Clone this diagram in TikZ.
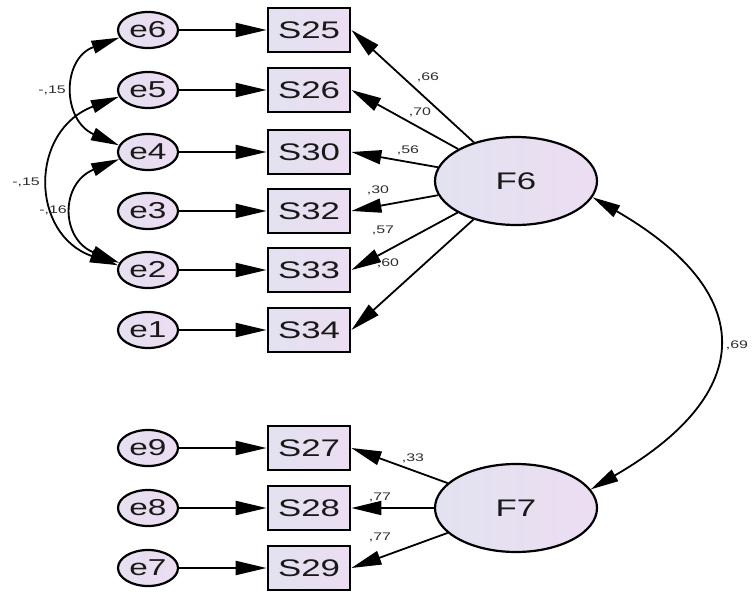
\documentclass[tikz,border=0pt]{standalone}
\usepackage{fontspec}
\setmainfont{Liberation Sans}
\newfontfamily\nodefont[FakeStretch=1.45]{Liberation Sans}
\newfontfamily\labfont[FakeStretch=1.45]{Liberation Sans}
\usetikzlibrary{shapes.geometric,arrows.meta}
\definecolor{lavL}{RGB}{226,226,240}
\definecolor{lavR}{RGB}{236,221,242}
\definecolor{errL}{RGB}{230,224,240}
\definecolor{errR}{RGB}{236,220,242}
\definecolor{txt}{RGB}{25,25,25}
\definecolor{labc}{RGB}{45,45,45}
\begin{document}
\begin{tikzpicture}[x=1pt,y=-1pt,
  errnode/.style={ellipse, draw=black, line width=2.2pt, minimum width=60pt, minimum height=36pt, inner sep=0pt,
    left color=errL, right color=errR, text=txt, font=\nodefont\fontsize{23}{23}\selectfont},
  obsnode/.style={rectangle, draw=black, line width=2.8pt, minimum width=82pt, minimum height=44pt, inner sep=0pt,
    left color=lavL, right color=lavR, text=txt, font=\nodefont\fontsize{24}{24}\selectfont},
  latnode/.style={ellipse, draw=black, line width=2.2pt, minimum width=162pt, minimum height=88pt, inner sep=0pt,
    left color=lavL, right color=lavR, text=txt, font=\nodefont\fontsize{24}{24}\selectfont},
  labnode/.style={inner sep=0pt, text=labc, font=\labfont\fontsize{11}{11}\selectfont},
  errarrow/.style={line width=2.2pt, -{Triangle[length=31pt,width=14pt]}},
  loadarrow/.style={line width=1.8pt, -{Triangle[length=30pt,width=14pt]}},
  covarrow/.style={line width=1.8pt, {Triangle[length=28pt,width=13pt]}-{Triangle[length=28pt,width=13pt]}}
]
\useasboundingbox (0,0) rectangle (752,594);
% error terms
\node[errnode] (e6) at (148,30) {e6};
\node[errnode] (e5) at (148,90) {e5};
\node[errnode] (e4) at (148,152) {e4};
\node[errnode] (e3) at (148,211) {e3};
\node[errnode] (e2) at (148,270) {e2};
\node[errnode] (e1) at (148,330) {e1};
\node[errnode] (e9) at (148,448) {e9};
\node[errnode] (e8) at (148,508) {e8};
\node[errnode] (e7) at (148,568) {e7};
% observed
\node[obsnode] (S25) at (309,30) {S25};
\node[obsnode] (S26) at (309,90) {S26};
\node[obsnode] (S30) at (309,152) {S30};
\node[obsnode] (S32) at (309,211) {S32};
\node[obsnode] (S33) at (309,270) {S33};
\node[obsnode] (S34) at (309,330) {S34};
\node[obsnode] (S27) at (309,448) {S27};
\node[obsnode] (S28) at (309,508) {S28};
\node[obsnode] (S29) at (309,568) {S29};
% latent
\node[latnode] (F6) at (516,181) {F6};
\node[latnode] (F7) at (516,508) {F7};
% error arrows
\foreach \e/\s in {e6/S25,e5/S26,e4/S30,e3/S32,e2/S33,e1/S34,e9/S27,e8/S28,e7/S29}
  \draw[errarrow] (\e) -- (\s);
% loadings
\foreach \s in {S25,S26,S30,S32,S33,S34}
  \draw[loadarrow] (F6) -- (\s.east);
\foreach \s in {S27,S28,S29}
  \draw[loadarrow] (F7) -- (\s.east);
% covariances
\draw[covarrow] (e6.195) .. controls +(-58,21) and +(-57,-25) .. (e4.167);
\draw[covarrow] (e5.193) .. controls +(-90,34) and +(-88,-31) .. (e2.171);
\draw[covarrow] (e4.194) .. controls +(-59,24) and +(-59,-24) .. (e2.166);
\draw[covarrow] (F6.-12) .. controls +(166,96) and +(166,-96) .. (F7.14);
% labels
\node[labnode] (l1) at (428,77) {,66};
\node[labnode] (l2) at (420,112) {,70};
\node[labnode] (l3) at (408,150) {,56};
\node[labnode] (l4) at (378,190) {,30};
\node[labnode] (l5) at (383,230) {,57};
\node[labnode] (l6) at (388,263) {,60};
\node[labnode] (l7) at (413,458) {,33};
\node[labnode] (l8) at (380,497) {,77};
\node[labnode] (l9) at (380,537) {,77};
\node[labnode] (l10) at (737,345) {,69};
\node[labnode] (l11) at (52,90) {-,15};
\node[labnode] (l12) at (26,182) {-,15};
\node[labnode] (l13) at (53,210) {-,16};
\end{tikzpicture}
\end{document}
